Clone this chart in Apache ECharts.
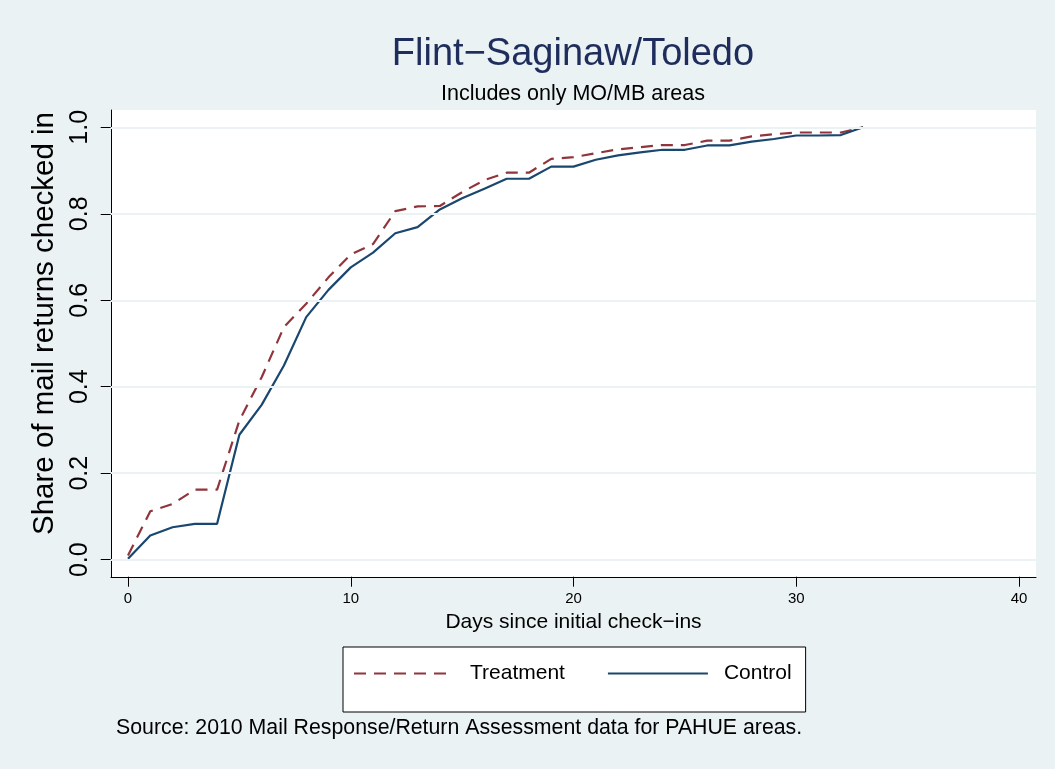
<!DOCTYPE html>
<html>
<head>
<meta charset="utf-8">
<script src="https://cdn.jsdelivr.net/npm/echarts@6/dist/echarts.min.js"></script>
<style>
  html, body { margin: 0; padding: 0; background: #eaf2f3; }
  #chart { width: 1055px; height: 769px; }
</style>
</head>
<body>
<div id="chart"></div>
<script>
// ---- data ----
const days = [0,1,2,3,4,5,6,7,8,9,10,11,12,13,14,15,16,17,18,19,20,21,22,23,24,25,26,27,28,29,30,31,32,33];
const treatment = [0.010,0.112,0.129,0.162,0.162,0.322,0.422,0.538,0.592,0.653,0.706,0.730,0.806,0.817,0.818,0.850,0.878,0.895,0.895,0.927,0.931,0.940,0.949,0.954,0.959,0.959,0.969,0.969,0.979,0.984,0.988,0.988,0.988,1.000];
const control   = [0.002,0.056,0.075,0.083,0.083,0.289,0.358,0.449,0.561,0.624,0.676,0.710,0.755,0.769,0.810,0.836,0.858,0.881,0.881,0.909,0.909,0.925,0.935,0.942,0.948,0.948,0.958,0.958,0.967,0.973,0.981,0.981,0.982,1.000];
const xTicks = [0,10,20,30,40];
const yTicks = [0,0.2,0.4,0.6,0.8,1.0];
const seriesNames = ['Treatment','Control'];
const titleText = 'Flint\u2212Saginaw/Toledo';
const subtitleText = 'Includes only MO/MB areas';
const xName = 'Days since initial check\u2212ins';
const yName = 'Share of mail returns checked in';
const noteText = 'Source: 2010 Mail Response/Return Assessment data for PAHUE areas.';

// ---- layout ----
const W = 1055, H = 769;
const FONT = '"Liberation Sans", Arial, Helvetica, sans-serif';
const outer = { left: 111, right: 19, top: 110, bottom: 192 };
const padX = 0.7632, padY = 0.04;
const xMin = xTicks[0], xMax = xTicks[xTicks.length-1];
const yMin = yTicks[0], yMax = yTicks[yTicks.length-1];
const plotW = W - outer.left - outer.right;
const plotH = H - outer.top - outer.bottom;
const pxX = plotW / (xMax - xMin + 2*padX);
const pxY = plotH / (yMax - yMin + 2*padY);
const offX = padX * pxX, offY = padY * pxY;
const inner = { left: outer.left + offX, right: outer.right + offX, top: outer.top + offY, bottom: outer.bottom + offY };
const titleX = 568;

const chart = echarts.init(document.getElementById('chart'), null, { renderer: 'canvas' });
const red = '#90353b', navy = '#1a476f';

chart.setOption({
  backgroundColor: '#eaf2f3',
  animation: false,
  textStyle: { fontFamily: FONT },
  title: [
    { text: titleText, left: titleX, top: 31, textAlign: 'center',
      textStyle: { fontSize: 38, fontWeight: 'normal', color: '#1e2d5c', fontFamily: FONT } },
    { text: subtitleText, left: titleX, top: 78, textAlign: 'center',
      textStyle: { fontSize: 21.5, fontWeight: 'normal', color: '#000', fontFamily: FONT } }
  ],
  legend: {
    data: seriesNames,
    left: 343, top: 647,
    orient: 'horizontal',
    backgroundColor: '#fff', borderColor: '#000', borderWidth: 1, borderRadius: 0,
    padding: [16, 14, 28, 10],
    itemWidth: 100, itemHeight: 16, itemGap: 42,
    itemStyle: { opacity: 0, borderWidth: 0 },
    lineStyle: { width: 2 },
    textStyle: { fontSize: 21, color: '#000', fontFamily: FONT, padding: [0, 0, 0, 11] }
  },
  grid: [
    { left: outer.left, right: outer.right, top: outer.top, bottom: outer.bottom,
      show: true, backgroundColor: '#fff', borderWidth: 0, containLabel: false },
    { left: inner.left, right: inner.right, top: inner.top, bottom: inner.bottom,
      show: false, containLabel: false }
  ],
  xAxis: [
    { type: 'value', gridIndex: 0, min: xMin - padX, max: xMax + padX,
      axisLine: { show: true, onZero: false, lineStyle: { color: '#000', width: 1 } },
      axisTick: { show: false }, axisLabel: { show: false }, splitLine: { show: false } },
    { type: 'value', gridIndex: 1, min: xMin, max: xMax, interval: 10, offset: offX,
      name: xName, nameLocation: 'middle', nameGap: 33,
      nameTextStyle: { fontSize: 21, color: '#000', fontFamily: FONT },
      axisLine: { show: false, onZero: false },
      axisTick: { show: true, length: 10, lineStyle: { color: '#000', width: 1 } },
      axisLabel: { show: true, fontSize: 15, color: '#000', margin: 15, fontFamily: FONT },
      splitLine: { show: false } }
  ],
  yAxis: [
    { type: 'value', gridIndex: 0, min: yMin - padY, max: yMax + padY,
      axisLine: { show: true, onZero: false, lineStyle: { color: '#000', width: 1 } },
      axisTick: { show: false }, axisLabel: { show: false }, splitLine: { show: false } },
    { type: 'value', gridIndex: 1, min: yMin, max: yMax, interval: 0.2, offset: offY,
      name: yName, nameLocation: 'middle', nameGap: 40, nameRotate: 90,
      nameTextStyle: { fontSize: 29.5, color: '#000', fontFamily: FONT, padding: [0, 0, 0, 40] },
      axisLine: { show: false, onZero: false },
      axisTick: { show: true, length: 10, lineStyle: { color: '#000', width: 1 } },
      axisLabel: { show: true, rotate: 90, fontSize: 25, color: '#000', margin: 18, fontFamily: FONT,
        formatter: v => v.toFixed(1) },
      splitLine: { show: false } }
  ],
  graphic: [
    { type: 'text', left: 116, top: 718, silent: true,
      style: { text: noteText, fontSize: 21.3, fill: '#000', fontFamily: FONT } }
  ],
  series: [
    { type: 'line', name: '_grid', xAxisIndex: 0, yAxisIndex: 0, data: [], z: 1, silent: true,
      markLine: { silent: true, symbol: ['none','none'], animation: false,
        label: { show: false },
        lineStyle: { color: '#eaf2f3', width: 2, type: 'solid' },
        emphasis: { disabled: true },
        data: yTicks.map(v => ({ yAxis: v })) } },
    { type: 'line', name: seriesNames[0], xAxisIndex: 0, yAxisIndex: 0, z: 3,
      data: days.map((d, i) => [d, treatment[i]]),
      symbol: 'none', lineStyle: { color: red, width: 2.2, type: [12, 8] }, itemStyle: { color: red } },
    { type: 'line', name: seriesNames[1], xAxisIndex: 0, yAxisIndex: 0, z: 4,
      data: days.map((d, i) => [d, control[i]]),
      symbol: 'none', lineStyle: { color: navy, width: 2.2, type: 'solid' }, itemStyle: { color: navy } }
  ]
});
</script>
</body>
</html>
